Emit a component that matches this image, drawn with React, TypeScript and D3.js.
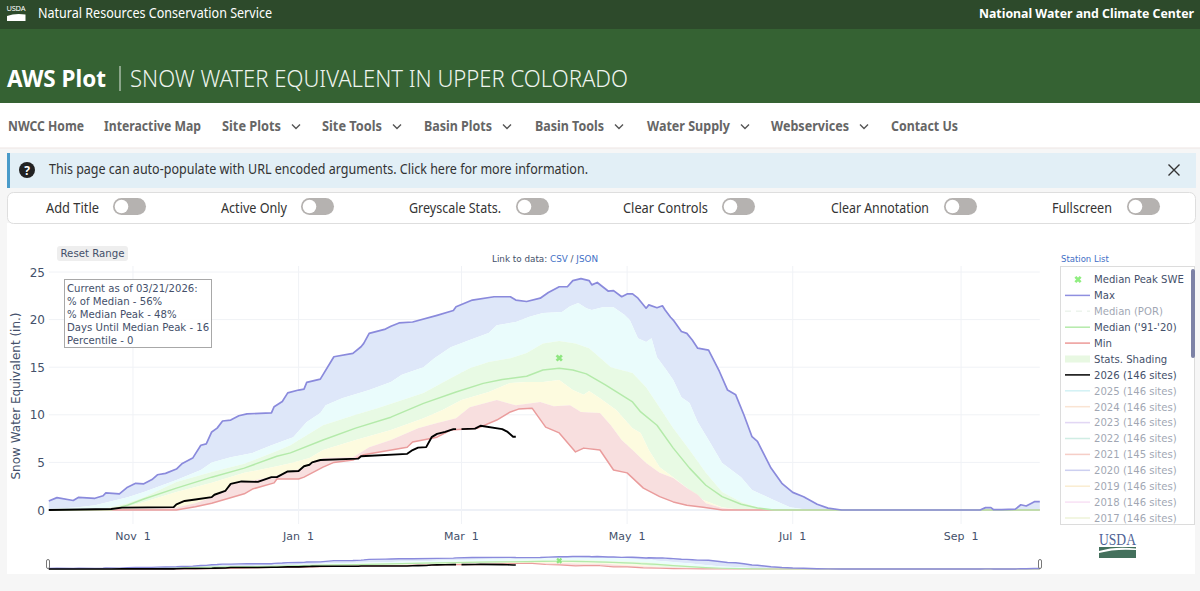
import React from "react";
import * as d3 from "d3";

// day offsets from Oct 1 on a leap-year water-year axis, values in inches
const maxDays = [0,3,9,11,17,20,21,26,29,32,35,38,40,43,47,49,53,56,58,60,62,64,67,70,73,82,83,86,88,92,94,95,100,105,112,115,116,118,124,126,129,134,143,149,150,156,164,170,172,176,181,184,188,191,193,196,199,200,202,206,208,211,213,215,217,220,221,224,226,227,229,230,233,235,237,239,243,247,250,253,256,259,261,266,270,274,278,283,287,292,343,345,347,348,351,356,358,360,363,365];
const maxVals = [0.95,1.3,1,1.33,1.23,1.5,1.8,1.7,2.4,2.8,2.75,3.2,3.7,3.85,4.3,4.85,5.45,6.8,6.95,8.2,8.6,9.35,9.45,9.9,10.1,10.2,10.85,11.4,12.3,12.6,12.7,13.4,13.75,16.1,16.45,17.15,17.5,18.55,19,19.3,19.65,19.75,20.45,20.95,21.35,22.05,22.4,22.4,22.05,21.9,22.25,22.85,23.45,23.45,24.1,24.3,24.1,23.65,23.9,23,23.05,22.4,22.7,22.7,22.25,21.2,21.55,21.25,21.45,21,20.25,19.95,18.75,18.55,17.85,17,16.8,14.55,12.6,12.1,10,7.7,7.2,4.4,2.8,1.85,1.4,0.6,0.2,0,0,0.25,0.25,0.03,0.03,0.1,0.55,0.42,0.87,0.87];

const p90Days = [0,10,17,29,35,47,56,60,67,75,82,90,95,100,102,108,118,126,130,138,142,148,155,162,165,172,177,182,189,192,195,198,200,204,208,212,214,217,220,222,224,227,230,233,236,239,243,248,255,259,267,273,280,365];
const p90Vals = [0.1,0.25,0.5,1.35,1.9,3.15,4.2,5,5.55,6,6.8,7.65,9.25,10.2,11,11.75,12.6,13.45,14.2,15,15.95,17.1,17.85,18.6,19.4,19.75,20.3,20.7,20.8,21.4,21.75,21.2,21,21.3,21.3,20.5,19.95,18.05,17.65,18.05,16.05,14.9,13.65,11.85,11.25,9.25,7.35,4.95,3.45,2.1,1.05,0.3,0,0];

const p70Days = [0,20,29,35,47,60,72,84,89,101,113,121,128,138,148,155,162,170,176,182,188,194,199,204,207,215,220,224,230,236,242,248,255,261,267,365];
const p70Vals = [0,0.1,0.7,1.35,2.95,4,4.85,6.2,6.8,8.9,10,10.7,11.35,12.3,13.85,14.9,15.55,15.95,16.5,17.5,17.75,17.5,17,15.75,15,14.4,12.9,11.2,8.6,6.3,3.9,1.9,0.85,0.3,0,0];

const medianDays = [0,23,29,35,47,60,72,84,89,101,113,126,138,150,160,167,176,182,188,193,198,205,215,218,224,230,236,242,248,255,261,267,365];
const medianVals = [0,0.03,0.5,1.15,2.3,3.45,4.4,5.65,6,7.35,8.6,9.75,11.2,12.4,13.3,13.7,14.05,14.7,14.9,14.7,14.3,13.15,11.35,10.3,8.9,6.5,4.4,2.6,1.4,0.6,0.2,0,0];

const p30Days = [0,25,35,47,60,72,84,89,96,101,113,126,138,145,152,162,170,176,182,188,193,197,199,203,209,215,218,221,225,230,236,241,248,255,365];
const p30Vals = [0,0,0.85,1.9,2.85,3.9,4.6,4.9,5.45,6.3,7.35,8.4,9.65,10.5,11.55,12.4,13.35,13.45,13.45,13.65,12.6,12.1,12.5,11.75,10.5,8.6,8.1,6.3,4.5,3.45,2.1,1.05,0.3,0,0];

const p10Days = [0,46,54,60,66,67,72,82,88,95,101,112,118,126,136,143,150,155,165,172,177,181,186,192,196,203,207,211,215,220,225,230,235,239,242,248,255,365];
const p10Vals = [0,0.2,0.7,1.35,2.1,2.8,2.95,3.45,4,4.5,5.45,5.55,6.6,7.35,8.6,9.15,9.65,10.8,11.55,11,11.2,11.35,10.9,11,10.3,10.2,8.9,7.35,6.3,4.95,3.9,3.35,2.3,1.6,0.7,0.2,0,0];

const minDays = [0,47,54,60,72,75,83,84,92,94,101,105,112,116,132,134,143,148,158,165,170,173,178,183,188,194,197,203,208,213,219,225,230,235,241,248,365];
const minVals = [0,0,0.35,0.7,1.7,2.2,2.85,3.25,3.25,3.45,4.5,5,5.25,5.8,6.6,7.15,7.65,8.4,8.6,9.45,10.3,10.6,10.7,8.7,8.1,6.1,6.5,6.3,4.2,3.9,2.3,1.4,0.85,0.5,0.3,0,0];

const wy2026Days = [0,23,27,46,47,50,54,60,61,65,67,71,77,82,84,88,92,94,96,97,100,114,115,132,134,136,139,141,143,146,149,150,151,152,157,159,167,169,171,172];
const wy2026Vals = [0,0.1,0.25,0.3,0.6,0.95,1.1,1.35,1.6,2,2.75,3,2.95,3.45,3.45,4.05,4.1,4.6,4.75,5,5.25,5.4,5.65,5.9,6.3,6.55,6.6,7.65,8,8.2,8.5,8.5,NaN,8.5,8.55,8.85,8.5,8.2,7.7,7.7];

const peakDay = 188;
const peakVal = 15.97;
const yTicks = [0, 5, 10, 15, 20, 25];

const legendLabels = ["Median Peak SWE","Max","Median (POR)","Median ('91-'20)","Min","Stats. Shading","2026 (146 sites)","2025 (146 sites)","2024 (146 sites)","2023 (146 sites)","2022 (146 sites)","2021 (145 sites)","2020 (146 sites)","2019 (146 sites)","2018 (146 sites)","2017 (146 sites)"];
const legendColors = ["#90ee80","#8f8fe0","#dcebdc","#b4eaaa","#ec9a98","#e8f8e2","#000000","#a6e6ec","#f6cba8","#c6b0ea","#a2dccb","#ee9f90","#9aa0e2","#f6dca4","#f2c4ec","#dfe9b4"];
const legendMuted = [false,false,true,false,false,false,false,true,true,true,true,true,true,true,true,true];

const annotationLines = ["Current as of 03/21/2026:","% of Median - 56%","% Median Peak - 48%","Days Until Median Peak - 16","Percentile - 0"];
const navItems: [string, number, number, boolean][] = [["NWCC Home",8,76,false],["Interactive Map",104,97,false],["Site Plots",222,59,true],["Site Tools",322,60,true],["Basin Plots",424,68,true],["Basin Tools",535,69,true],["Water Supply",647,83,true],["Webservices",771,78,true],["Contact Us",891,67,false]];
const toggles: [string, number, number, number][] = [["Add Title",46,53,113],["Active Only",221,66,301],["Greyscale Stats.",409,92,516],["Clear Controls",623,85,722],["Clear Annotation",831,98,944],["Fullscreen",1052,60,1127]];

const start = new Date(Date.UTC(2019, 9, 1));
const end = new Date(Date.UTC(2020, 8, 30));
const xScale = d3.scaleUtc().domain([start, end]).range([48.8, 1039.8]);
const yMain = d3.scaleLinear().domain([0, 25]).range([510, 272]);
const ySlide = d3.scaleLinear().domain([0, 25]).range([569, 556]);
const dx = (d: number) => xScale(d3.utcDay.offset(start, Math.floor(d)));

type P = [number, number];
const zip = (a: number[], b: number[]): P[] => a.map((d, i) => [d, b[i]]);
const maxS = zip(maxDays, maxVals), p90S = zip(p90Days, p90Vals), p70S = zip(p70Days, p70Vals),
  medS = zip(medianDays, medianVals), p30S = zip(p30Days, p30Vals), p10S = zip(p10Days, p10Vals),
  minS = zip(minDays, minVals), curS = zip(wy2026Days, wy2026Vals);

const lineFor = (y: d3.ScaleLinear<number, number>) =>
  d3.line<P>().defined((p) => !Number.isNaN(p[1])).x((p) => dx(p[0])).y((p) => y(p[1]));
const band = (y: d3.ScaleLinear<number, number>, up: P[], lo: P[]) => {
  const l = lineFor(y);
  return `${l(up)}L${(l([...lo].reverse()) as string).slice(1)}Z`;
};

const bands: [P[], P[], string][] = [
  [maxS, p90S, "#dee7f9"],
  [p90S, p70S, "#eafcfc"],
  [p70S, p30S, "#e8fae4"],
  [p30S, p10S, "#fdfbdf"],
  [p10S, minS, "#f8dfdf"],
];

function Series({ y, w }: { y: d3.ScaleLinear<number, number>; w: number }) {
  const l = lineFor(y);
  return (
    <g fill="none" strokeLinejoin="round">
      {bands.map(([u, d, c], i) => <path key={i} d={band(y, u, d)} fill={c} />)}
      <path d={l(minS) as string} stroke="#ea9c9c" strokeWidth={w} />
      <path d={l(medS) as string} stroke="#b4eaaa" strokeWidth={w} />
      <path d={l(maxS) as string} stroke="#8a8adc" strokeWidth={w + 0.2} />
      <path d={l(curS) as string} stroke="#000" strokeWidth={w + 0.4} />
    </g>
  );
}

const Cross = ({ cx, cy, r, c }: { cx: number; cy: number; r: number; c: string }) => (
  <path d={d3.symbol(d3.symbolX, r * r * 2.2)() as string} transform={`translate(${cx},${cy})`} stroke={c} strokeWidth={r * 0.9} fill="none" />
);

const UI = "'Noto Sans', sans-serif";
const PLOT = "'DejaVu Sans', Verdana, sans-serif";
const INK = "#44506a";

export default function App() {
  const monthTicks = xScale.ticks(d3.utcMonth.every(2) as d3.TimeInterval);
  const fmt = d3.utcFormat("%b %e");
  return (
    <svg width={1200} height={591} viewBox="0 0 1200 591" style={{ position: "fixed", left: 0, top: 0 }}>
      <rect width={1200} height={591} fill="#f6f6f6" />
      {/* header */}
      <rect width={1200} height={29} fill="#2d4a2b" />
      <rect y={29} width={1200} height={74} fill="#356233" />
      <rect y={103} width={1200} height={45} fill="#fff" />
      <rect y={147.5} width={1200} height={1} fill="#eee6e4" />
      <text x={6.5} y={11} fontFamily={UI} fontSize={7.5} fill="#fff" textLength={19}>USDA</text>
      <path d="M7 16Q15 13 25.500 14.500V21H7Z" fill="#fff" />
      <text x={38} y={18} fontFamily={UI} fontSize={13.5} fill="#fff" textLength={234} lengthAdjust="spacingAndGlyphs">Natural Resources Conservation Service</text>
      <text x={979} y={18} fontFamily={UI} fontSize={12.8} fontWeight={700} fill="#fff" textLength={215} lengthAdjust="spacingAndGlyphs">National Water and Climate Center</text>
      <text x={7} y={87} fontFamily={UI} fontSize={24} fontWeight={700} fill="#fff" textLength={99} lengthAdjust="spacingAndGlyphs">AWS Plot</text>
      <rect x={119.500} y={66} width={1} height={25} fill="#dfe8df" />
      <text x={130} y={87} fontFamily={UI} fontSize={24} fontWeight={300} fill="#eef4ee" textLength={498} lengthAdjust="spacingAndGlyphs">SNOW WATER EQUIVALENT IN UPPER COLORADO</text>
      {/* nav */}
      {navItems.map(([t, x, w, chev]) => (
        <g key={t}>
          <text x={x} y={131} fontFamily={UI} fontSize={14} fontWeight={700} fill="#666" textLength={w} lengthAdjust="spacingAndGlyphs">{t}</text>
          {chev && <path d={`M${x + w + 11} 124.500l4 4 4-4`} fill="none" stroke="#555" strokeWidth={1.4} />}
        </g>
      ))}
      {/* alert */}
      <rect x={7} y={153} width={1189} height={35} fill="#e2eff6" />
      <rect x={7} y={153} width={3} height={35} fill="#4b9bc9" />
      <circle cx={27} cy={170} r={8} fill="#222" />
      <text x={27} y={174.500} textAnchor="middle" fontFamily={UI} fontSize={12} fontWeight={700} fill="#fff">?</text>
      <text x={49} y={174} fontFamily={UI} fontSize={14} fill="#333" textLength={539} lengthAdjust="spacingAndGlyphs">This page can auto-populate with URL encoded arguments. Click here for more information.</text>
      <path d="M1168.500 164.500l11 11m0-11l-11 11" stroke="#333" strokeWidth={1.4} />
      {/* chart panel */}
      <rect x={7} y={223} width={1188} height={351} fill="#fff" />
      {/* controls */}
      <rect x={7.500} y={192.500} width={1188} height={31} rx={6} fill="#fff" stroke="#dedede" />
      {toggles.map(([t, x, w, tx]) => (
        <g key={t}>
          <text x={x} y={213} fontFamily={UI} fontSize={14} fill="#333" textLength={w} lengthAdjust="spacingAndGlyphs">{t}</text>
          <rect x={tx} y={198} width={33} height={17} rx={8.500} fill="#b5b2b0" />
          <circle cx={tx + 8.500} cy={206.500} r={6.800} fill="#fff" />
        </g>
      ))}
      {/* plot buttons and links */}
      <rect x={57} y={246} width={71} height={15} rx={3} fill="#eeeeee" />
      <text x={92.500} y={257} textAnchor="middle" fontFamily={PLOT} fontSize={10.200} fill={INK}>Reset Range</text>
      <text x={492} y={262} fontFamily={PLOT} fontSize={8.800} fill={INK}>Link to data: <tspan fill="#3f6fc6">CSV</tspan> / <tspan fill="#3f6fc6">JSON</tspan></text>
      <text x={1061} y={262} fontFamily={PLOT} fontSize={8.500} fill="#3f6fc6">Station List</text>
      {/* grid */}
      {yTicks.map((t) => <line key={t} x1={48.800} x2={1039.800} y1={yMain(t)} y2={yMain(t)} stroke={t === 0 ? "#e9edf4" : "#f0f2f6"} strokeWidth={t === 0 ? 1.5 : 1} />)}
      {monthTicks.map((t) => <line key={+t} x1={xScale(t)} x2={xScale(t)} y1={266} y2={524} stroke="#f0f2f6" />)}
      <Series y={yMain} w={1.5} />
      <Cross cx={dx(peakDay)} cy={yMain(peakVal)} r={3} c="#8fe680" />
      {/* axes */}
      {yTicks.map((t) => <text key={t} x={45} y={yMain(t) + 4.500} textAnchor="end" fontFamily={PLOT} fontSize={12} fill={INK}>{t}</text>)}
      {monthTicks.map((t) => <text key={+t} x={xScale(t)} y={540} textAnchor="middle" fontFamily={PLOT} fontSize={11} fill={INK} style={{ whiteSpace: "pre" }}>{fmt(t)}</text>)}
      <text transform="translate(20,396) rotate(-90)" textAnchor="middle" fontFamily={PLOT} fontSize={12} fill={INK}>Snow Water Equivalent (in.)</text>
      {/* annotation */}
      <rect x={64.500} y={279.500} width={147} height={68} fill="#fff" fillOpacity={0.9} stroke="#a8a8a8" />
      {annotationLines.map((t, i) => <text key={t} x={67} y={292 + i * 13} fontFamily={PLOT} fontSize={10.150} fill={INK}>{t}</text>)}
      {/* legend */}
      <rect x={1060.500} y={266.500} width={134} height={258} fill="#fff" stroke="#dcdcdc" />
      {legendLabels.map((t, i) => {
        const y = 279.500 + i * 15.900;
        return (
          <g key={t} opacity={legendMuted[i] ? 0.5 : 1}>
            {i === 0 ? <Cross cx={1078} cy={y} r={3} c={legendColors[i]} />
              : i === 5 ? <rect x={1065} y={y - 3.500} width={25} height={7} fill={legendColors[i]} />
              : <line x1={1065} x2={1090} y1={y} y2={y} stroke={legendColors[i]} strokeWidth={1.5} strokeDasharray={i === 2 ? "6 5" : undefined} />}
            <text x={1094} y={y + 3.800} fontFamily={PLOT} fontSize={10.100} fill={INK}>{t}</text>
          </g>
        );
      })}
      <rect x={1191} y={269} width={4} height={89} rx={2} fill="#7d82a6" />
      {/* range slider */}
      <Series y={ySlide} w={1.2} />
      <Cross cx={dx(peakDay)} cy={ySlide(peakVal)} r={2.500} c="#8fe680" />
      {[48, 1040].map((x) => <rect key={x} x={x - 1.500} y={559.500} width={3} height={9} rx={1.500} fill="#fff" stroke="#555" strokeWidth={0.8} />)}
      {/* USDA mark */}
      <text x={1099} y={545} fontFamily={"'Liberation Serif', serif"} fontSize={16} fill="#4f6396" textLength={37} lengthAdjust="spacingAndGlyphs">USDA</text>
      <rect x={1099} y={547} width={37} height={11} fill="#44705c" />
      <path d="M1099 551Q1115 546 1136 548.500V550Q1115 548.500 1099 553Z" fill="#fff" />
    </svg>
  );
}
